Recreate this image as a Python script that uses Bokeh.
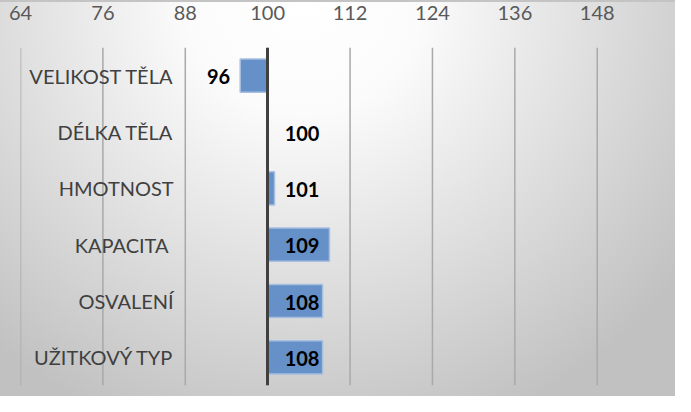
from bokeh.plotting import figure
from bokeh.models import FactorRange, Range1d, FixedTicker, Span
from bokeh.embed import file_html
from bokeh.resources import INLINE
from bokeh.core.properties import value

# ---- data ----
categories = ["VELIKOST TĚLA", "DÉLKA TĚLA", "HMOTNOST", "KAPACITA ", "OSVALENÍ", "UŽITKOVÝ TYP"]
values = [96, 100, 101, 109, 108, 108]
x_ticks = [64, 76, 88, 100, 112, 124, 136, 148]
base_value = 100

FONT = "Lato"

p = figure(width=675, height=396, output_backend="svg", toolbar_location=None,
           y_range=FactorRange(factors=list(reversed(categories))),
           x_range=Range1d(64, 159.4), x_axis_location="above",
           min_border_left=20, min_border_right=0, min_border_top=47, min_border_bottom=11)

p.background_fill_color = None
p.border_fill_color = None
p.outline_line_color = None
p.styles = {
    "background": "linear-gradient(#c4c4c4, #c4c4c4) 0 0 / 100% 2px no-repeat, "
                  "radial-gradient(ellipse 70% 115% at 45% 0%, #ffffff 0%, #fbfbfb 25%, #c1c1c1 100%)"
}

# vertical gridlines
p.xgrid.visible = False
p.ygrid.visible = False
for t in x_ticks:
    p.add_layout(Span(location=t, dimension="height", line_color="#a9a9a9",
                      line_width=1.5, level="underlay"))

# bars
p.hbar(y=categories, left=base_value, right=values, height=0.59,
       fill_color="#6690c8", line_color="#a7bfe0", line_width=1.5)

# value labels
pos_c = [c for c, v in zip(categories, values) if v >= base_value]
pos_v = [v for v in values if v >= base_value]
neg_c = [c for c, v in zip(categories, values) if v < base_value]
neg_v = [v for v in values if v < base_value]

p.text(x=[base_value] * len(pos_v), y=pos_c, text=[str(v) for v in pos_v],
       x_offset=17, y_offset=1, text_align="left", text_baseline="middle",
       text_font=value(FONT), text_font_style="bold", text_font_size="20px", text_color="black")
p.text(x=neg_v, y=neg_c, text=[str(v) for v in neg_v],
       x_offset=-10, y_offset=1, text_align="right", text_baseline="middle",
       text_font=value(FONT), text_font_style="bold", text_font_size="20px", text_color="black")

# x axis (above)
p.xaxis.ticker = FixedTicker(ticks=x_ticks)
p.xaxis.axis_line_color = None
p.xaxis.major_tick_line_color = None
p.xaxis.minor_tick_line_color = None
p.xaxis.major_label_text_font = FONT
p.xaxis.major_label_text_font_size = "20px"
p.xaxis.major_label_text_color = "#595959"
p.xaxis.major_label_standoff = 22

# y axis drawn at 100
p.yaxis.fixed_location = base_value
p.yaxis.axis_line_color = "#404040"
p.yaxis.axis_line_width = 3
p.yaxis.major_tick_line_color = None
p.yaxis.minor_tick_line_color = None
p.yaxis.major_label_text_font = FONT
p.yaxis.major_label_text_font_size = "20px"
p.yaxis.major_label_text_color = "#404040"
p.yaxis.major_label_standoff = 88

open("out.html", "w").write(file_html(p, INLINE))
